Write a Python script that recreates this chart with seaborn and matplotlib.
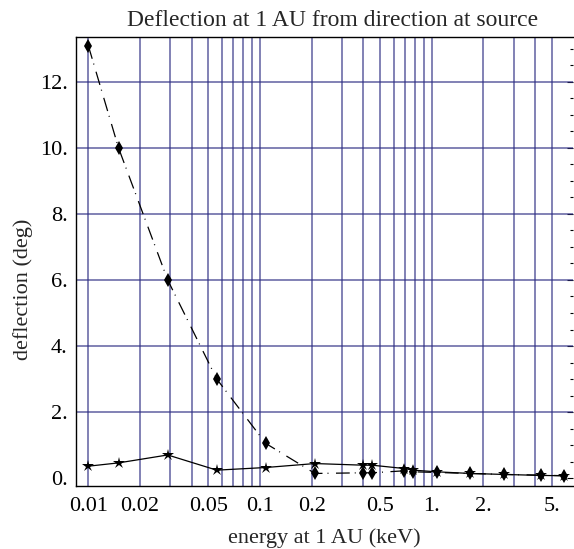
import matplotlib
matplotlib.use("Agg")
import matplotlib.pyplot as plt
import matplotlib.ticker as mticker
import seaborn as sns
import pandas as pd
import numpy as np

# ---- data ----
energy = [0.01, 0.015, 0.029, 0.056, 0.108, 0.209, 0.40, 0.45, 0.69, 0.78,
          1.07, 1.67, 2.65, 4.33, 5.92]
defl_diamond = [13.1, 10.0, 6.0, 3.0, 1.05, 0.14, 0.16, 0.16, 0.22, 0.19,
                0.17, 0.14, 0.11, 0.09, 0.07]
defl_star = [0.36, 0.46, 0.70, 0.24, 0.32, 0.44, 0.39, 0.39, 0.29, 0.24,
             0.19, 0.14, 0.11, 0.08, 0.07]
xtick_vals = [0.01, 0.02, 0.05, 0.1, 0.2, 0.5, 1, 2, 5]
xtick_labels = ["0.01", "0.02", "0.05", "0.1", "0.2", "0.5", "1.", "2.", "5."]
ytick_vals = [0, 2, 4, 6, 8, 10, 12]
ytick_labels = ["0.", "2.", "4.", "6.", "8.", "10.", "12."]
xgrid_vals = [m * d for d in (0.01, 0.1, 1) for m in range(1, 10) if m * d <= 5]
ygrid_vals = [2, 4, 6, 8, 10, 12]

df_d = pd.DataFrame({"energy": energy, "deflection": defl_diamond})
df_s = pd.DataFrame({"energy": energy, "deflection": defl_star})

sns.set_style("white")
plt.rcParams["font.family"] = ["Liberation Serif", "DejaVu Serif"]

fig = plt.figure(figsize=(5.74, 5.49), dpi=100)
ax = fig.add_axes([76 / 574, (549 - 486) / 549, (573 - 76) / 574, (486 - 37) / 549])

ax.set_xscale("log")
ax.set_xlim(0.00848, 6.65)
ax.set_ylim(-0.24, 13.36)

grid_color = "#2e2e84"
for gx in xgrid_vals:
    ax.axvline(gx, color=grid_color, lw=1.2, alpha=0.7, zorder=1)
for gy in ygrid_vals:
    ax.axhline(gy, color=grid_color, lw=1.2, alpha=0.7, zorder=1)

sns.lineplot(data=df_d, x="energy", y="deflection", ax=ax, color="black",
             lw=0.9, marker="d", markersize=7.5, markeredgewidth=0,
             markerfacecolor="black", sort=False, zorder=3)
ax.lines[-1].set_dashes((11, 4, 0.8, 6))
sns.lineplot(data=df_s, x="energy", y="deflection", ax=ax, color="black",
             lw=0.9, marker="*", markersize=9, markeredgewidth=0,
             markerfacecolor="black", sort=False, zorder=3)

ax.set_xticks(xtick_vals)
ax.set_xticklabels(xtick_labels)
ax.xaxis.set_minor_locator(mticker.NullLocator())
ax.set_yticks(ytick_vals)
ax.set_yticklabels(ytick_labels)
ax.yaxis.set_minor_locator(mticker.MultipleLocator(0.5))

ax.tick_params(axis="both", which="both", direction="in", labelsize=16,
               colors="black", width=0.8)
ax.tick_params(axis="y", which="major", length=4, right=True, pad=6)
ax.tick_params(axis="y", which="minor", length=2.5, right=True)
ax.tick_params(axis="x", which="major", length=0, pad=8)

for side in ("left", "bottom", "top"):
    ax.spines[side].set_color("black")
    ax.spines[side].set_linewidth(1.0)
ax.spines["right"].set_visible(False)

ax.set_xlabel("energy at 1 AU (keV)", fontsize=16, labelpad=9)
ax.set_ylabel("deflection (deg)", fontsize=16)
ax.yaxis.set_label_coords(-0.086, 0.437)
ax.set_title("Deflection at 1 AU from direction at source", fontsize=17,
             pad=8, x=0.517)

fig.savefig("out.png", dpi=100)
